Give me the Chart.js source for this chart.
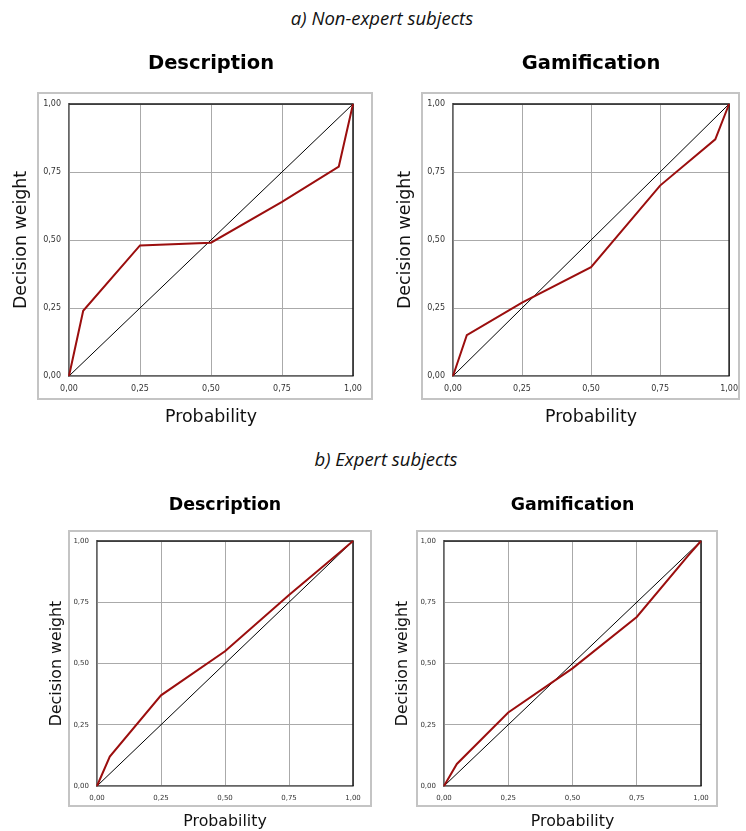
<!DOCTYPE html>
<html>
<head>
<meta charset="utf-8">
<script src="https://cdn.jsdelivr.net/npm/chart.js@4.4.1/dist/chart.umd.min.js"></script>
<style>
  body { margin: 0; background: #fff; }
  #page { position: relative; width: 746px; height: 831px; overflow: hidden; }
  .section { position: absolute; width: 746px; text-align: center; line-height: 24px;
             font-family: 'Open Sans', sans-serif; font-style: italic; font-size: 18.5px; color: #111; }
  .frame { position: absolute; border: 2px solid #c4c4c4; box-sizing: border-box; }
  canvas { position: absolute; }
</style>
</head>
<body>
<div id="page">
  <div class="section" style="left:9px; top:6px;">a) Non-expert subjects</div>
  <div class="section" style="left:13px; top:447px;">b) Expert subjects</div>
</div>
<script>
// Data
const probabilities = [0, 0.05, 0.25, 0.5, 0.75, 0.95, 1];
const nonExpertDescription = [0, 0.24, 0.48, 0.49, 0.64, 0.77, 1];
const nonExpertGamification = [0, 0.15, 0.27, 0.40, 0.70, 0.87, 1];
const expertDescription = [0, 0.12, 0.37, 0.55, 0.78, 0.955, 1];
const expertGamification = [0, 0.09, 0.30, 0.48, 0.69, 0.94, 1];
const diagonalX = [0, 1];
const diagonalY = [0, 1];

// Layout for each panel (page pixels)
const panels = [
  { title: 'Description', values: nonExpertDescription,
    canvas: [0, 40, 380, 390], plot: [69, 104, 353, 376], frame: [37, 92, 373, 400],
    titleY: 64, yTitleX: 21, xTitleY: 417, titleSize: 19.5, axisSize: 17.4, tickSize: 8 },
  { title: 'Gamification', values: nonExpertGamification,
    canvas: [380, 40, 366, 390], plot: [453, 104, 737, 376], frame: [421, 92, 740, 400],
    titleY: 64, yTitleX: 405, xTitleY: 417, titleSize: 19.5, axisSize: 17.4, tickSize: 8 },
  { title: 'Description', values: expertDescription,
    canvas: [0, 480, 380, 351], plot: [97, 541, 353, 786], frame: [68, 530, 372, 807],
    titleY: 505, yTitleX: 57, xTitleY: 822, titleSize: 17.4, axisSize: 15.8, tickSize: 7 },
  { title: 'Gamification', values: expertGamification,
    canvas: [380, 480, 366, 351], plot: [444, 541, 701, 786], frame: [416, 530, 718, 807],
    titleY: 505, yTitleX: 403, xTitleY: 822, titleSize: 17.4, axisSize: 15.8, tickSize: 7 }
];

// Dark top and right edges of the plot box
const plotEdges = {
  id: 'plotEdges',
  beforeDatasetsDraw(chart) {
    const { ctx, chartArea: a } = chart;
    ctx.save();
    ctx.strokeStyle = '#1a1a1a';
    ctx.lineWidth = 1.5;
    ctx.beginPath();
    ctx.moveTo(a.left, a.top);
    ctx.lineTo(a.right, a.top);
    ctx.lineTo(a.right, a.bottom);
    ctx.stroke();
    ctx.restore();
  }
};

function toPoints(xs, ys) {
  return xs.map((x, i) => ({ x: x, y: ys[i] }));
}

function formatTick(v) {
  return v.toFixed(2).replace('.', ',');
}

function buildPanel(p) {
  const page = document.getElementById('page');

  const frame = document.createElement('div');
  frame.className = 'frame';
  frame.style.left = p.frame[0] + 'px';
  frame.style.top = p.frame[1] + 'px';
  frame.style.width = (p.frame[2] - p.frame[0]) + 'px';
  frame.style.height = (p.frame[3] - p.frame[1]) + 'px';
  page.appendChild(frame);

  const [cl, ct, cw, ch] = p.canvas;
  const canvas = document.createElement('canvas');
  canvas.width = cw;
  canvas.height = ch;
  canvas.style.left = cl + 'px';
  canvas.style.top = ct + 'px';
  page.appendChild(canvas);

  const titleLh = p.titleSize * 1.2;
  const axisLh = p.axisSize * 1.2;
  const titlePadTop = p.titleY - ct - titleLh / 2;
  const titlePadBottom = p.plot[1] - ct - titlePadTop - titleLh;
  const yAxisWidth = p.plot[0] - cl;
  const xAxisHeight = ct + ch - p.plot[3];
  const yTitlePad = Math.max(0, p.yTitleX - cl - axisLh / 2);
  const xTitlePad = Math.max(0, ct + ch - p.xTitleY - axisLh / 2);

  const tickOpts = {
    color: '#333',
    font: { family: 'DejaVu Sans', size: p.tickSize },
    padding: 8,
    stepSize: 0.25,
    maxRotation: 0,
    callback: formatTick
  };
  const gridOpts = { color: '#aaaaaa', lineWidth: 1, drawTicks: false };

  new Chart(canvas.getContext('2d'), {
    type: 'scatter',
    data: {
      datasets: [
        {
          data: toPoints(probabilities, p.values),
          showLine: true,
          borderColor: '#9b0e0e',
          borderWidth: 2,
          pointRadius: 0,
          tension: 0,
          clip: 4
        },
        {
          data: toPoints(diagonalX, diagonalY),
          showLine: true,
          borderColor: '#000',
          borderWidth: 1,
          pointRadius: 0,
          clip: 4
        }
      ]
    },
    options: {
      responsive: false,
      animation: false,
      events: [],
      layout: { padding: { left: 0, top: 0, bottom: 0, right: cl + cw - p.plot[2] } },
      plugins: {
        legend: { display: false },
        tooltip: { enabled: false },
        title: {
          display: true,
          fullSize: false,
          text: p.title,
          color: '#000',
          font: { family: 'DejaVu Sans', size: p.titleSize, weight: 'bold', lineHeight: 1.2 },
          padding: { top: titlePadTop, bottom: titlePadBottom }
        }
      },
      scales: {
        x: {
          type: 'linear',
          min: 0,
          max: 1,
          ticks: tickOpts,
          grid: gridOpts,
          border: { color: '#666', width: 1.5 },
          title: {
            display: true,
            text: 'Probability',
            color: '#111',
            font: { family: 'DejaVu Sans', size: p.axisSize, lineHeight: 1.2 },
            padding: { top: 0, bottom: xTitlePad }
          },
          afterFit(scale) { scale.height = xAxisHeight; }
        },
        y: {
          type: 'linear',
          min: 0,
          max: 1,
          ticks: tickOpts,
          grid: gridOpts,
          border: { color: '#666', width: 1.5 },
          title: {
            display: true,
            text: 'Decision weight',
            color: '#111',
            font: { family: 'DejaVu Sans', size: p.axisSize, lineHeight: 1.2 },
            padding: { top: yTitlePad, bottom: 0 }
          },
          afterFit(scale) { scale.width = yAxisWidth; }
        }
      }
    },
    plugins: [plotEdges]
  });
}

panels.forEach(buildPanel);
</script>
</body>
</html>
